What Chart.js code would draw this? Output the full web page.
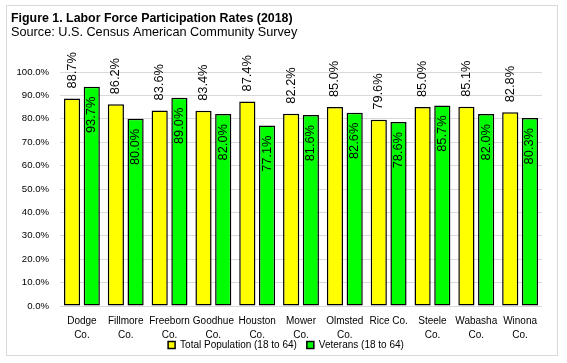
<!DOCTYPE html>
<html>
<head>
<meta charset="utf-8">
<script src="https://cdn.jsdelivr.net/npm/chart.js@4"></script>
<style>
  html, body { margin: 0; padding: 0; background: #fff; }
  #wrap { position: relative; width: 567px; height: 363px; }
</style>
</head>
<body>
<div id="wrap"><canvas id="c" width="567" height="363"></canvas></div>
<script>
const titleText = "Figure 1. Labor Force Participation Rates (2018)";
const subtitleText = "Source: U.S. Census American Community Survey";
const categories = [
  ["Dodge", "Co."], ["Fillmore", "Co."], ["Freeborn", "Co."], ["Goodhue", "Co."],
  ["Houston", "Co."], ["Mower", "Co."], ["Olmsted", "Co."], "Rice Co.",
  ["Steele", "Co."], ["Wabasha", "Co."], ["Winona", "Co."]
];
const seriesNames = ["Total Population (18 to 64)", "Veterans (18 to 64)"];
const totalPopulation = [88.7, 86.2, 83.6, 83.4, 87.4, 82.2, 85.0, 79.6, 85.0, 85.1, 82.8];
const veterans = [93.7, 80.0, 89.0, 82.0, 77.1, 81.6, 82.6, 78.6, 85.7, 82.0, 80.3];
const yTicks = [0, 10, 20, 30, 40, 50, 60, 70, 80, 90, 100];

const frameAndTitle = {
  id: 'frameAndTitle',
  afterLayout(chart) {
    // centre the legend on the whole frame rather than on the padded layout box
    if (chart.legend) chart.legend.right = chart.width + 5;
  },
  beforeDraw(chart) {
    // let the two-line category labels spill below the x-axis box
    if (chart.scales.x) chart.scales.x._computeLabelArea = () => undefined;
    const ctx = chart.ctx;
    ctx.save();
    ctx.fillStyle = '#ffffff';
    ctx.fillRect(0, 0, chart.width, chart.height);
    ctx.strokeStyle = '#d9d9d9';
    ctx.lineWidth = 1;
    ctx.strokeRect(6.5, 5.5, 551, 350);
    ctx.fillStyle = '#000';
    ctx.textAlign = 'left';
    ctx.textBaseline = 'alphabetic';
    ctx.font = 'bold 12.4px "Liberation Sans", Arial, sans-serif';
    ctx.fillText(titleText, 11, 21.5);
    ctx.font = '12.7px "Liberation Sans", Arial, sans-serif';
    ctx.fillText(subtitleText, 11, 35.5);
    ctx.restore();
  }
};

const valueLabels = {
  id: 'valueLabels',
  afterDatasetsDraw(chart) {
    const ctx = chart.ctx;
    ctx.save();
    ctx.fillStyle = '#000';
    ctx.font = '12.8px "Liberation Sans", Arial, sans-serif';
    ctx.textBaseline = 'middle';
    chart.data.datasets.forEach((ds, di) => {
      const meta = chart.getDatasetMeta(di);
      meta.data.forEach((bar, i) => {
        const txt = ds.data[i].toFixed(1) + '%';
        ctx.save();
        ctx.translate(bar.x, bar.y);
        ctx.rotate(-Math.PI / 2);
        if (di === 0) {
          ctx.textAlign = 'left';
          ctx.fillText(txt, 10, 0);
        } else {
          ctx.textAlign = 'right';
          ctx.fillText(txt, -10, 0);
        }
        ctx.restore();
      });
    });
    ctx.restore();
  }
};

const chart = new Chart(document.getElementById('c'), {
  type: 'bar',
  data: {
    labels: categories,
    datasets: [
      {
        label: seriesNames[0],
        data: totalPopulation,
        backgroundColor: '#ffff00',
        borderColor: '#000000',
        borderWidth: 1.5,
        borderSkipped: false,
        categoryPercentage: 0.9,
        barPercentage: 0.82
      },
      {
        label: seriesNames[1],
        data: veterans,
        backgroundColor: '#00ff00',
        borderColor: '#000000',
        borderWidth: 1.5,
        borderSkipped: false,
        categoryPercentage: 0.9,
        barPercentage: 0.82
      }
    ]
  },
  options: {
    responsive: false,
    animation: false,
    devicePixelRatio: 1,
    layout: { padding: { top: 72, left: 0, right: 25, bottom: 3 } },
    plugins: {
      title: { display: false },
      tooltip: { enabled: false },
      legend: {
        position: 'bottom',
        labels: {
          boxWidth: 7,
          boxHeight: 7,
          padding: 10,
          color: '#000',
          font: { family: '"Liberation Sans", Arial, sans-serif', size: 10 }
        }
      }
    },
    scales: {
      x: {
        grid: { display: false, drawTicks: false },
        border: { display: false },
        ticks: {
          color: '#000',
          padding: 8,
          maxRotation: 0,
          autoSkip: false,
          font: { family: '"Liberation Sans", Arial, sans-serif', size: 10, lineHeight: 1.4 }
        },
        afterFit(scale) { scale.height = 24; }
      },
      y: {
        min: 0,
        max: 100,
        afterBuildTicks(scale) { scale.ticks = yTicks.map(v => ({ value: v })); },
        grid: { color: '#d9d9d9', lineWidth: 1, drawTicks: false },
        border: { display: false },
        ticks: {
          color: '#000',
          padding: 11,
          font: { family: '"Liberation Sans", Arial, sans-serif', size: 9.6 },
          callback: (v) => Number(v).toFixed(1) + '%'
        },
        afterFit(scale) { scale.width = 60; }
      }
    }
  },
  plugins: [frameAndTitle, valueLabels]
});
chart.draw();
</script>
</body>
</html>
